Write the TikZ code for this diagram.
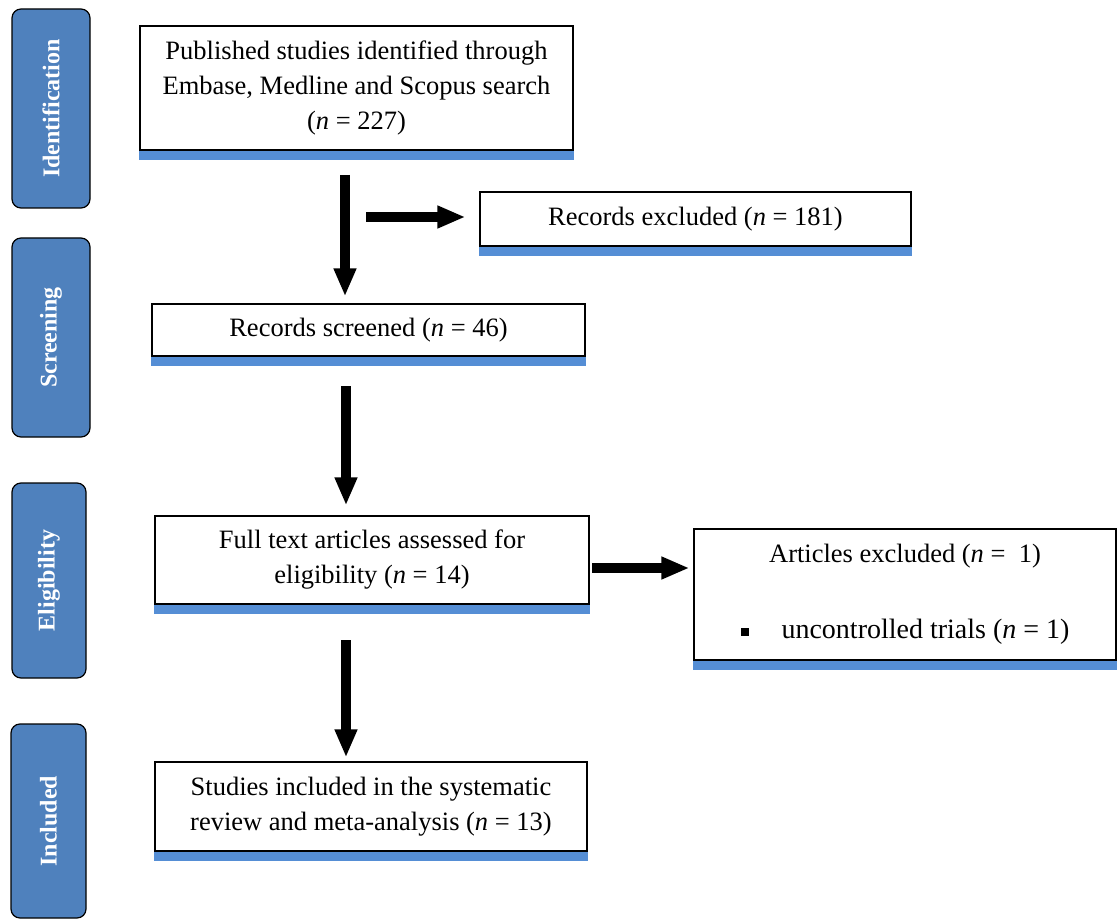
\documentclass[tikz,border=0pt]{standalone}
\usepackage{fontspec}
\setmainfont{Liberation Serif}
\usetikzlibrary{arrows.meta,positioning,calc}

\definecolor{stageblue}{RGB}{79,129,189}
\definecolor{barblue}{RGB}{85,142,213}

\begin{document}
\begin{tikzpicture}[x=1pt, y=-1pt,
    every node/.style={inner sep=0pt},
    stage/.style={draw=black, line width=1.2pt, fill=stageblue, rounded corners=9pt},
    stagetext/.style={rotate=90, text=white, font=\fontsize{24}{28}\selectfont\bfseries},
    infobox/.style={draw=black, line width=1.2pt, fill=white, align=center,
                    font=\fontsize{26.5}{35}\selectfont},
    fatarrow/.style={line width=10pt, -{Triangle[width=21pt,length=28pt]}}]
  % Define canvas
  \useasboundingbox (0,0) rectangle (1119,920);

  % Draw stage labels
  \foreach \nm/\cx/\cy/\w/\h/\lab in {ident/51/108.5/78/199/Identification,
                                       screen/51/337.5/78/199/Screening,
                                       elig/49/580.5/74/195/Eligibility,
                                       incl/48.5/821/75/194/Included} {%
      \node[stage, minimum width=\w pt, minimum height=\h pt] (\nm) at (\cx,\cy) {};
      \node[stagetext] at (\nm) {\lab};
  }

  % Draw boxes
  \node[infobox, minimum width=433pt, minimum height=124pt] (found) at (356.5,88)
       {Published studies identified through\\Embase, Medline and Scopus search\\(\textit{n} = 227)};
  \node[infobox, minimum width=431pt, minimum height=54pt] (excl) at (695.5,219)
       {Records excluded (\textit{n} = 181)};
  \node[infobox, minimum width=433pt, minimum height=52pt] (screened) at (368.5,330)
       {Records screened (\textit{n} = 46)};
  \node[infobox, minimum width=434pt, minimum height=88pt] (full) at (372,560)
       {Full text articles assessed for\\eligibility (\textit{n} = 14)};
  \node[infobox, minimum width=422pt, minimum height=131pt] (artexcl) at (905,594.5)
       {Articles excluded (\textit{n} =\ \ 1)\\[41pt]
        \rule[3pt]{8pt}{8pt}\hspace{33pt}{\fontsize{28}{35}\selectfont uncontrolled\ trials (\textit{n} = 1)}};
  \node[infobox, minimum width=432pt, minimum height=89pt] (included) at (371,806.5)
       {Studies included in the systematic\\review and meta-analysis (\textit{n} = 13)};

  % Blue bars under the boxes
  \foreach \b in {found, excl, screened, full, artexcl, included}
      \fill[barblue] ([yshift=-0.6pt]\b.south west) rectangle ([yshift=-9pt]\b.south east);

  % Arrow start points
  \coordinate (A) at (345,175);
  \coordinate (B) at (366,217);
  \coordinate (C) at (346,386);
  \coordinate (D) at (592,568);
  \coordinate (E) at (346,640);

  % Draw arrows
  \draw[fatarrow, shorten >=7pt] (A) -- (A |- screened.north);
  \draw[fatarrow, shorten >=14pt] (B) -- (B -| excl.west);
  \draw[fatarrow, shorten >=10pt] (C) -- (C |- full.north);
  \draw[fatarrow, shorten >=4pt] (D) -- (D -| artexcl.west);
  \draw[fatarrow, shorten >=4pt] (E) -- (E |- included.north);

\end{tikzpicture}
\end{document}
